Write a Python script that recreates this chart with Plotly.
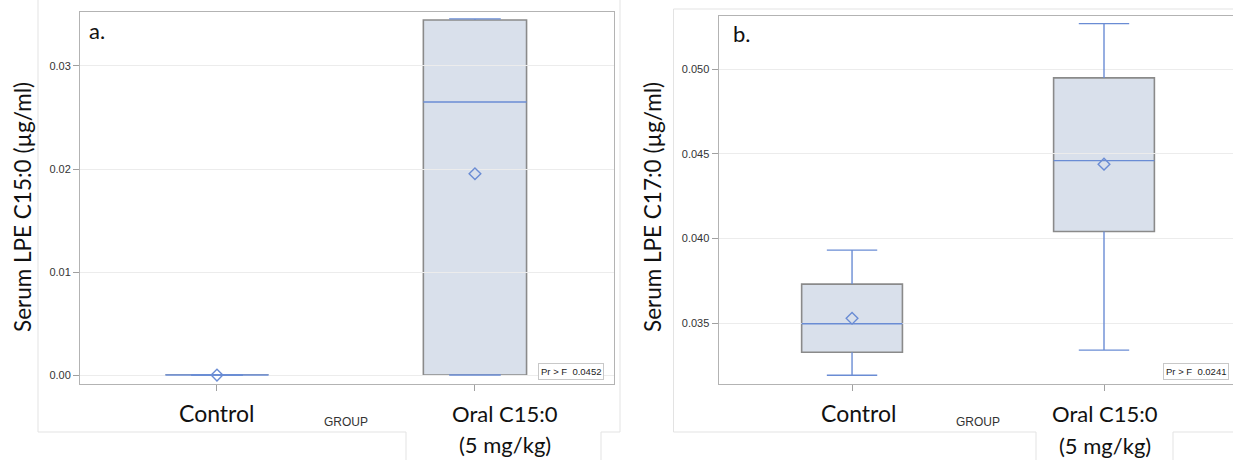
import plotly.graph_objects as go

W, H = 1233, 460

# ---------------- data ----------------
groups = ["Control", "Oral C15:0 (5 mg/kg)"]
group_pos = [0, 1]

# panel a: Serum LPE C15:0 (µg/ml)
a_lower = [0.0, 0.0]
a_q1 = [0.0, 0.0]
a_median = [0.0, 0.0265]
a_q3 = [0.0, 0.03447]
a_upper = [0.0, 0.03457]
a_mean = [0.0, 0.01954]
a_ticks = [0.00, 0.01, 0.02, 0.03]
a_p = "0.0452"

# panel b: Serum LPE C17:0 (µg/ml)
b_lower = [0.03191, 0.0334]
b_q1 = [0.03327, 0.04041]
b_median = [0.03496, 0.0446]
b_q3 = [0.0373, 0.04949]
b_upper = [0.03931, 0.0527]
b_mean = [0.03528, 0.04439]
b_ticks = [0.035, 0.040, 0.045, 0.050]
b_p = "0.0241"

# ---------------- style ----------------
BLUE = "#6a8cd4"
BOXLINE = "#8a8a8a"
FILL = "#d9e0eb"
FRAME = "#b3b3b3"
GRID = "#ececec"
OUTER = "#e3e3e3"
LABEL_FONT = "Lato"
BOXW = 0.4
CAPW = 0.2


def px(x):
    return x / W


def py(y):
    return 1 - y / H


fig = go.Figure()
shapes = []
annotations = []


def add_panel(xref, yref, lower, q1, med, q3, upper, mean):
    for i, pos in enumerate(group_pos):
        shapes.append(dict(type="rect", xref=xref, yref=yref,
                           x0=pos - BOXW / 2, x1=pos + BOXW / 2, y0=q1[i], y1=q3[i],
                           fillcolor=FILL, line=dict(color=BOXLINE, width=1.6), layer="below"))
        # whiskers
        for a, b in ((q3[i], upper[i]), (q1[i], lower[i])):
            if a != b:
                shapes.append(dict(type="line", xref=xref, yref=yref, x0=pos, x1=pos, y0=a, y1=b,
                                   line=dict(color=BLUE, width=1.4)))
        for v in (upper[i], lower[i]):
            shapes.append(dict(type="line", xref=xref, yref=yref,
                               x0=pos - CAPW / 2, x1=pos + CAPW / 2, y0=v, y1=v,
                               line=dict(color=BLUE, width=1.4)))
        # median
        shapes.append(dict(type="line", xref=xref, yref=yref,
                           x0=pos - BOXW / 2, x1=pos + BOXW / 2, y0=med[i], y1=med[i],
                           line=dict(color=BLUE, width=1.4)))
    fig.add_trace(go.Scatter(x=group_pos, y=mean, mode="markers", xaxis=xref, yaxis=yref,
                             marker=dict(symbol="diamond-open", size=9, color=BLUE,
                                         line=dict(color=BLUE, width=1.4)),
                             showlegend=False, hoverinfo="skip"))


add_panel("x", "y", a_lower, a_q1, a_median, a_q3, a_upper, a_mean)
add_panel("x2", "y2", b_lower, b_q1, b_median, b_q3, b_upper, b_mean)

axis_common = dict(showgrid=False, zeroline=False, showline=True, linecolor=FRAME, linewidth=1,
                   ticks="outside", ticklen=6, tickcolor="#a0a0a0", showticklabels=False,
                   tickvals=group_pos)
yaxis_common = dict(showgrid=True, gridcolor=GRID, gridwidth=1, zeroline=False, showline=True,
                    linecolor=FRAME, linewidth=1, ticks="outside", ticklen=6, tickcolor="#a0a0a0",
                    tickfont=dict(family="Liberation Sans", size=11, color="#333333"))

fig.update_layout(
    width=W, height=H, autosize=False,
    margin=dict(l=0, r=0, t=0, b=0),
    paper_bgcolor="white", plot_bgcolor="white",
    xaxis=dict(domain=[px(80), px(614)], range=[-0.531, 1.539], mirror=True, **axis_common),
    yaxis=dict(domain=[py(384), py(12)], range=[-0.00087, 0.03524], mirror=True,
               tickvals=a_ticks, tickformat=".2f", **yaxis_common),
    xaxis2=dict(domain=[px(718.5), 1.0], range=[-0.53, 1.512], mirror=True, anchor="y2",
                **axis_common),
    yaxis2=dict(domain=[py(384), py(15.5)], range=[0.031395, 0.05318], mirror=False, anchor="x2",
                tickvals=b_ticks, tickformat=".3f", **yaxis_common),
)

# outer frames (composite panel borders)
def pline(x0, y0, x1, y1):
    shapes.append(dict(type="line", xref="paper", yref="paper", x0=px(x0), x1=px(x1),
                       y0=py(y0), y1=py(y1), line=dict(color=OUTER, width=1)))


pline(38, 0, 38, 432)
pline(38, 432, 406, 432)
pline(406, 432, 406, 460)
pline(601, 432, 601, 460)
pline(601, 432, 620, 432)
pline(620, 0, 620, 432)

pline(673.5, 9, 673.5, 432)
pline(673.5, 9, 1233, 9)
pline(673.5, 432, 1036, 432)
pline(1036, 432, 1036, 460)
pline(1173, 432, 1173, 460)
pline(1173, 432, 1233, 432)


def ann(text, x, y, size, family=LABEL_FONT, color="#111111", xanchor="center", **kw):
    annotations.append(dict(text=text, x=px(x), y=py(y), xref="paper", yref="paper",
                            showarrow=False, xanchor=xanchor, yanchor="middle",
                            font=dict(family=family, size=size, color=color), **kw))


# panel a texts
ann("a.", 97, 31, 22)
ann("Serum LPE C15:0 (µg/ml)", 23, 207, 22.5, textangle=-90)
ann(groups[0], 216, 413, 23)
ann("Oral C15:0", 505, 413, 22)
ann("(5 mg/kg)", 505, 444, 22)
ann("GROUP", 346, 422, 12, family="Liberation Sans", color="#333333")
ann("Pr > F  " + a_p, 571, 371, 9.5, family="Liberation Sans", color="#222222",
    bordercolor="#c8c8c8", borderwidth=1, borderpad=2, bgcolor="white")

# panel b texts
ann("b.", 742, 33, 22)
ann("Serum LPE C17:0 (µg/ml)", 653, 207, 22.5, textangle=-90)
ann(groups[0], 858, 413, 23)
ann("Oral C15:0", 1105, 413, 22)
ann("(5 mg/kg)", 1105, 445, 22)
ann("GROUP", 978, 422, 12, family="Liberation Sans", color="#333333")
ann("Pr > F  " + b_p, 1163, 371, 9.5, family="Liberation Sans", color="#222222", xanchor="left",
    bordercolor="#c8c8c8", borderwidth=1, borderpad=2, bgcolor="white")

fig.update_layout(shapes=shapes, annotations=annotations)
fig.write_html("out.html", config={"displayModeBar": False},
               post_script="document.body.style.margin='0px';document.body.style.overflow='hidden';")
